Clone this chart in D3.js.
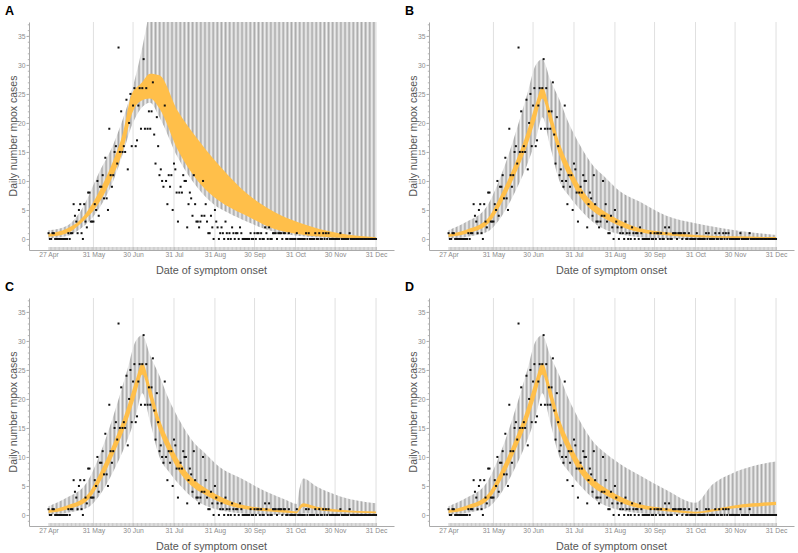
<!DOCTYPE html>
<html><head><meta charset="utf-8">
<script src="https://cdn.jsdelivr.net/npm/d3@7"></script>
<style>body{margin:0;background:#fff}svg{display:block;font-family:"Liberation Sans",Arial,sans-serif}</style>
</head><body><svg id="chart" width="798" height="553"></svg>
<script>
// ---------- data ----------
const startDate = "2022-04-27";
const observedCases = [
 1,0,0,1,1,0,0,0,0,0,
 0,0,0,0,0,1,0,1,1,6,
 4,3,1,5,6,1,0,6,3,2,
 8,8,3,3,3,6,5,10,4,9,
 9,11,7,14,7,5,19,11,9,11,
 15,16,13,33,15,22,15,16,15,24,
 12,20,25,16,23,26,16,17,23,26,
 19,26,31,19,26,19,22,19,22,27,
 18,13,21,16,11,12,10,9,23,10,
 6,11,9,11,5,13,12,8,3,8,
 9,8,11,10,10,2,6,8,7,4,
 11,6,3,3,2,3,4,10,4,6,
 3,1,1,4,2,0,5,3,2,0,
 1,2,1,0,3,1,0,1,0,2,
 1,0,1,1,0,2,1,0,0,0,
 0,0,0,1,0,0,1,0,1,1,
 0,1,0,0,2,1,0,2,0,0,
 1,1,1,0,1,1,1,0,1,1,
 0,0,1,0,0,0,0,0,1,0,
 0,0,0,0,0,1,0,1,0,0,
 0,0,1,0,0,1,0,0,1,0,
 1,0,1,0,0,0,0,0,0,0,
 0,1,0,0,0,0,0,0,1,0,
 0,0,0,0,0,0,0,0,0,0,
 0,0,0,0,0,0,0,0,0
];
const monthTickDates = ["2022-04-27","2022-05-31","2022-06-30","2022-07-31","2022-08-31","2022-09-30","2022-10-31","2022-11-30","2022-12-31"];
const monthTickLabels = ["27 Apr","31 May","30 Jun","31 Jul","31 Aug","30 Sep","31 Oct","30 Nov","31 Dec"];
const yTickValues = [0,5,10,15,20,25,30,35];
const panelLabels = ["A","B","C","D"];

// Panel A knots (day index from 27 Apr)
const bandDaysA   = [0,14,24,39,49,56,63,70,77,84,98,113,125,136,150,170,190,220,248];
const grayLowA    = [0.1,0.5,1.7,5.5,10,14.5,19.5,22.5,23.5,21,14,8.8,6.0,4.5,3.0,1.3,0.5,0.1,0];
const grayHighA   = [1.5,2.3,4.7,11.8,16.3,20.5,25.5,32,40,48,60,60,60,60,60,60,60,60,60];
const orangeLowA  = [0.4,1.0,2.6,6.5,11,15,21.5,23.8,24.2,22.5,15.3,10.0,7.3,5.6,4.0,1.8,0.8,0.2,0.05];
const orangeHighA = [0.9,1.8,3.3,8.5,13.5,18,25,26.8,28.5,28.2,22,17.2,13.8,11.0,7.9,4.8,2.8,1.0,0.3];

// Panel B knots
const bandDaysB   = [0,14,29,39,49,59,66,71,77,84,91,100,110,117,130,145,165,187,217,248];
const grayLowB    = [0.1,0.4,1.2,3.5,7.5,12.5,17,21,16,10,7.5,5,2.8,1.8,0.8,0.3,0.1,0,0,0];
const grayHighB   = [1.5,3,5.6,10.5,17,24.5,30,31,27.5,24,20,16,12.5,11,8.2,6.4,4.0,2.7,1.5,0.7];
const orangeLowB  = [0.35,0.95,2.4,5.7,10.3,15.8,20.7,24.2,19.8,14.4,10.8,7.1,4.7,3.7,2.2,1.15,0.65,0.3,0.15,0.08];
const orangeHighB = [0.85,1.65,3.4,7.3,12.3,18.2,23.3,26.2,22.2,16.6,12.8,8.9,6.1,4.9,3.2,1.85,1.15,0.7,0.45,0.32];

// Panel C knots
const bandDaysC   = [0,14,29,39,49,59,66,71,77,84,91,100,110,117,130,145,165,180,188,190,193,203,221,248];
const grayLowC    = [0.1,0.4,1.2,3.5,7.5,12.5,17,21,16,10,7.5,5,2.8,1.8,0.8,0.3,0.1,0,0,0.1,0.3,0.15,0.05,0];
const grayHighC   = [1.5,3,5.6,10.5,17,24.5,30,31,27.5,24,20,16,12.5,11,8.2,6.4,4.0,2.6,1.9,4.5,6.3,4.9,3.2,2.0];
const orangeLowC  = [0.35,0.95,2.4,5.7,10.3,15.8,20.7,24.2,19.8,14.4,10.8,7.1,4.7,3.7,2.2,1.15,0.65,0.4,0.3,0.8,1.4,0.9,0.5,0.3];
const orangeHighC = [0.85,1.65,3.4,7.3,12.3,18.2,23.3,26.2,22.2,16.6,12.8,8.9,6.1,4.9,3.2,1.85,1.15,0.8,0.6,1.5,2.0,1.4,0.9,0.6];

// Panel D knots
const bandDaysD   = [0,14,29,39,49,59,66,71,77,84,91,100,110,117,130,145,165,187,200,215,230,248];
const grayLowD    = [0.1,0.4,1.2,3.5,7.5,12.5,17,21,16,10,7.5,5,2.8,1.8,0.8,0.3,0.1,0.05,0.1,0.15,0.2,0.2];
const grayHighD   = [1.5,3,5.6,10.5,17,24.5,30,31,27.5,24,20,16,12.5,11,8.8,6.8,4.3,2.1,5.3,7.2,8.4,9.2];
const orangeLowD  = [0.35,0.95,2.4,5.7,10.3,15.8,20.7,24.2,19.8,14.4,10.8,7.1,4.7,3.7,2.2,1.15,0.65,0.25,0.6,1.1,1.4,1.7];
const orangeHighD = [0.85,1.65,3.4,7.3,12.3,18.2,23.3,26.2,22.2,16.6,12.8,8.9,6.1,4.9,3.2,1.85,1.15,0.55,1.0,1.6,2.0,2.3];

const panels = [
  {label:panelLabels[0], days:bandDaysA, gLo:grayLowA, gHi:grayHighA, oLo:orangeLowA, oHi:orangeHighA, dx:0,   dy:0},
  {label:panelLabels[1], days:bandDaysB, gLo:grayLowB, gHi:grayHighB, oLo:orangeLowB, oHi:orangeHighB, dx:400, dy:0},
  {label:panelLabels[2], days:bandDaysC, gLo:grayLowC, gHi:grayHighC, oLo:orangeLowC, oHi:orangeHighC, dx:0,   dy:276},
  {label:panelLabels[3], days:bandDaysD, gLo:grayLowD, gHi:grayHighD, oLo:orangeLowD, oHi:orangeHighD, dx:400, dy:276}
];

// ---------- drawing ----------
const DAY = 864e5;
const t0 = Date.parse(startDate + "T00:00:00Z");
const dayDate = d => new Date(t0 + d * DAY);
const x = d3.scaleUtc().domain([dayDate(-14.8), dayDate(261.6)]).range([29, 394]);
const y = d3.scaleLinear().domain([-1.9, 37.4]).range([250, 22]);
const monthDates = monthTickDates.map(s => new Date(s + "T00:00:00Z"));
const allDays = observedCases.map((v, i) => dayDate(i));

const svg = d3.select("#chart");
const defs = svg.append("defs");
const step = x(dayDate(1)) - x(dayDate(0));
const pat = defs.append("pattern").attr("id", "stripes")
  .attr("patternUnits", "userSpaceOnUse")
  .attr("x", x(dayDate(0)) - 0.35).attr("y", 0)
  .attr("width", step).attr("height", 20);
pat.append("rect").attr("width", step).attr("height", 20).attr("fill", "#f7f7f7");
pat.append("rect").attr("width", 0.7).attr("height", 20).attr("fill", "#a9a9a9");
defs.append("clipPath").attr("id", "plotclip").append("rect")
  .attr("x", 29).attr("y", 22).attr("width", 365).attr("height", 228);

panels.forEach(p => {
  const g = svg.append("g").attr("transform", `translate(${p.dx},${p.dy})`);
  // gridlines
  g.append("g").selectAll("line").data(monthDates.slice(1)).join("line")
    .attr("x1", d => x(d)).attr("x2", d => x(d)).attr("y1", 22).attr("y2", 250)
    .attr("stroke", "#dddddd").attr("stroke-width", 0.9);

  const plot = g.append("g").attr("clip-path", "url(#plotclip)");
  const pts = p.days.map((d, i) => ({d, gl:p.gLo[i], gh:p.gHi[i], ol:p.oLo[i], oh:p.oHi[i]}));
  const grayArea = d3.area().curve(d3.curveMonotoneX)
    .x(e => x(dayDate(e.d))).y0(e => y(e.gl)).y1(e => y(e.gh));
  const orangeArea = d3.area().curve(d3.curveMonotoneX)
    .x(e => x(dayDate(e.d))).y0(e => y(e.ol)).y1(e => y(e.oh));
  plot.append("path").attr("d", grayArea(pts)).attr("fill", "url(#stripes)");
  plot.append("path").attr("d", orangeArea(pts)).attr("fill", "#ffbf4a");

  // observed points
  plot.append("g").selectAll("rect").data(observedCases).join("rect")
    .attr("x", (v, i) => x(dayDate(i)) - 1).attr("y", v => y(v) - 1)
    .attr("width", 2).attr("height", 2).attr("fill", "#111");

  // x axis: month labels
  const xa = g.append("g").attr("transform", "translate(0,250)")
    .call(d3.axisBottom(x).tickValues(monthDates).tickFormat((d, i) => monthTickLabels[i])
      .tickSizeInner(0).tickSizeOuter(0).tickPadding(2));
  xa.select(".domain").attr("stroke", "#aaaaaa");
  xa.selectAll("text").attr("fill", "#8c8c8c").attr("font-size", 6.8).attr("font-family", "Liberation Sans, Arial, sans-serif");
  // day ticks
  const xd = g.append("g").attr("transform", "translate(0,250)")
    .call(d3.axisBottom(x).tickValues(allDays).tickFormat("").tickSizeInner(-3).tickSizeOuter(0));
  xd.select(".domain").remove();
  xd.selectAll("line").attr("stroke", "#b0b0b0").attr("stroke-width", 0.7);

  // y axis
  const ya = g.append("g").attr("transform", "translate(29,0)")
    .call(d3.axisLeft(y).tickValues(yTickValues).tickSizeInner(2.5).tickSizeOuter(0).tickPadding(1));
  ya.select(".domain").attr("stroke", "#aaaaaa");
  ya.selectAll("line").attr("stroke", "#aaaaaa");
  ya.selectAll("text").attr("fill", "#8c8c8c").attr("font-size", 6.8).attr("font-family", "Liberation Sans, Arial, sans-serif");
  const ym = g.append("g").attr("transform", "translate(29,0)")
    .call(d3.axisLeft(y).tickValues(d3.range(-1, 38)).tickFormat("").tickSizeInner(1.2).tickSizeOuter(0));
  ym.select(".domain").remove();
  ym.selectAll("line").attr("stroke", "#b5b5b5");

  // titles
  g.append("text").attr("x", 211.5).attr("y", 274).attr("text-anchor", "middle")
    .attr("font-size", 10.8).attr("fill", "#555").text("Date of symptom onset");
  g.append("text").attr("transform", "translate(16.5,136) rotate(-90)").attr("text-anchor", "middle")
    .attr("font-size", 10.5).attr("fill", "#555").text("Daily number mpox cases");
  g.append("text").attr("x", 5).attr("y", 15).attr("font-size", 12.5).attr("font-weight", "bold")
    .attr("fill", "#000").text(p.label);
});
</script></body></html>
